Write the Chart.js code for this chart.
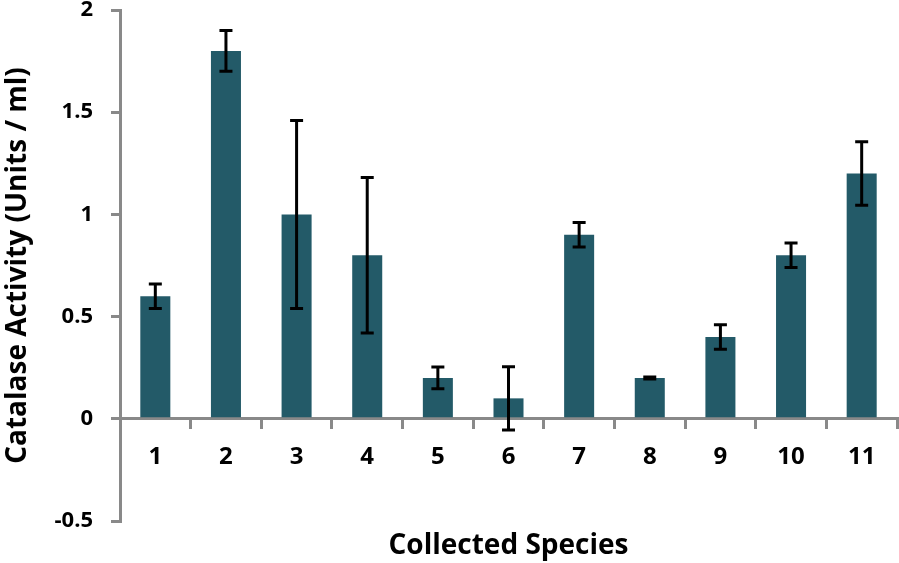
<!DOCTYPE html>
<html>
<head>
<meta charset="utf-8">
<script src="https://cdn.jsdelivr.net/npm/chart.js@4"></script>
<style>
  html, body { margin: 0; padding: 0; background: #fff; }
</style>
</head>
<body>
<canvas id="chart" width="899" height="563"></canvas>
<script>
// Chart values
const species = ['1', '2', '3', '4', '5', '6', '7', '8', '9', '10', '11'];
const activity = [0.6, 1.8, 1.0, 0.8, 0.2, 0.1, 0.9, 0.2, 0.4, 0.8, 1.2];
const errors = [0.06, 0.1, 0.46, 0.38, 0.053, 0.155, 0.06, 0.005, 0.06, 0.06, 0.155];
const yTicks = [-0.5, 0, 0.5, 1, 1.5, 2];

const axisGray = '#898989';
const fontFamily = '"Open Sans", Lato, sans-serif';

// Draw the error bars from the y scale
const errorBars = {
    id: 'errorBars',
    afterDatasetsDraw(chart) {
        const ctx = chart.ctx;
        const yScale = chart.scales.y;
        const meta = chart.getDatasetMeta(0);
        ctx.save();
        ctx.strokeStyle = '#000';
        ctx.lineWidth = 3;
        meta.data.forEach((bar, i) => {
            const top = yScale.getPixelForValue(activity[i] + errors[i]);
            const bottom = yScale.getPixelForValue(activity[i] - errors[i]);
            ctx.beginPath();
            ctx.moveTo(bar.x, top);
            ctx.lineTo(bar.x, bottom);
            ctx.moveTo(bar.x - 6.5, top);
            ctx.lineTo(bar.x + 6.5, top);
            ctx.moveTo(bar.x - 6.5, bottom);
            ctx.lineTo(bar.x + 6.5, bottom);
            ctx.stroke();
        });
        ctx.restore();
    }
};

const ctx = document.getElementById('chart').getContext('2d');
new Chart(ctx, {
    type: 'bar',
    data: {
        labels: species,
        datasets: [{
            label: 'Catalase Activity',
            data: activity,
            backgroundColor: '#235a68',
            borderWidth: 0,
            barPercentage: 0.425,
            categoryPercentage: 1
        }]
    },
    options: {
        responsive: false,
        devicePixelRatio: 1,
        animation: false,
        layout: { padding: { top: 10, right: 2, left: 0, bottom: 0 } },
        plugins: {
            legend: { display: false },
            tooltip: { enabled: false },
            title: {
                display: true,
                position: 'bottom',
                fullSize: false,
                text: 'Collected Species',
                color: '#000',
                font: { family: fontFamily, size: 28, weight: 'bold', lineHeight: 1.2 },
                padding: { top: 8.4, bottom: 0 }
            }
        },
        scales: {
            x: {
                position: { y: 0 },
                grid: {
                    offset: true,
                    drawOnChartArea: false,
                    drawTicks: true,
                    tickLength: 9,
                    color: axisGray,
                    lineWidth: 3
                },
                border: { display: true, color: axisGray, width: 3 },
                ticks: {
                    color: '#000',
                    padding: 15,
                    font: { family: fontFamily, size: 24, weight: 'bold' }
                }
            },
            y: {
                min: -0.5,
                max: 2,
                afterFit: s => {
                    s.width = 120;
                    s.paddingTop = 0;
                    s.paddingBottom = 0;
                },
                afterBuildTicks: s => { s.ticks = yTicks.map(v => ({ value: v })); },
                grid: {
                    drawOnChartArea: false,
                    drawTicks: true,
                    tickLength: 9,
                    color: axisGray,
                    lineWidth: 3
                },
                border: { display: true, color: axisGray, width: 3 },
                ticks: {
                    color: '#000',
                    padding: 18,
                    font: { family: fontFamily, size: 22, weight: 'bold' },
                    callback: v => String(v)
                },
                title: {
                    display: true,
                    text: 'Catalase Activity (Units / ml)',
                    color: '#000',
                    font: { family: fontFamily, size: 28, weight: 'bold', lineHeight: 1.2 },
                    padding: { top: 1, bottom: 0 }
                }
            }
        }
    },
    plugins: [errorBars]
});
</script>
</body>
</html>
